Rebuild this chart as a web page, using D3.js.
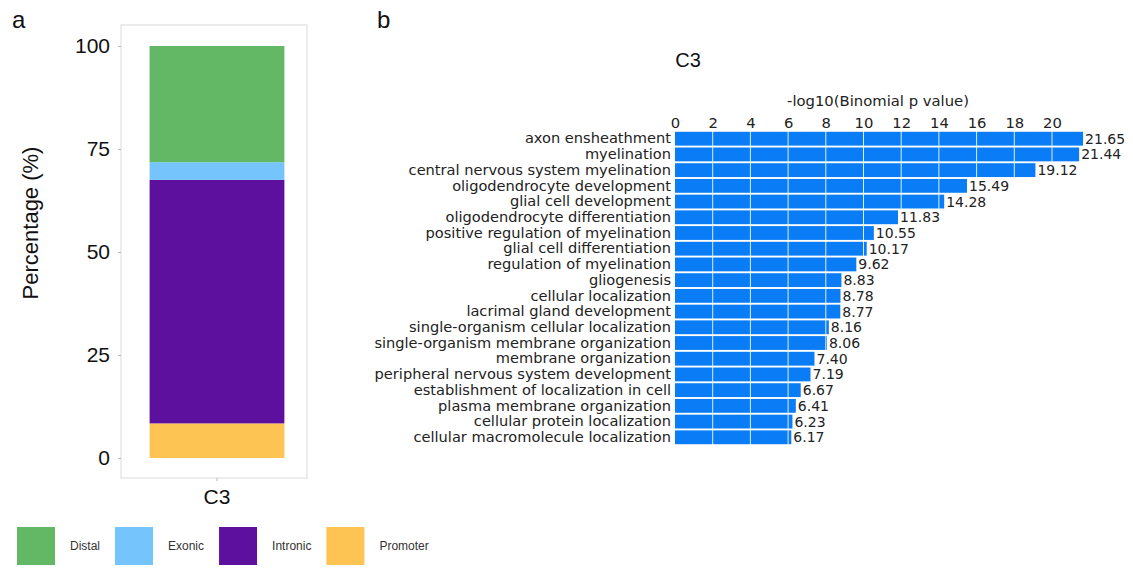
<!DOCTYPE html>
<html>
<head>
<meta charset="utf-8">
<script src="https://cdn.jsdelivr.net/npm/d3@7"></script>
<style>
  body { margin: 0; background: #fff; }
  svg { display: block; }
</style>
</head>
<body>
<svg id="chart" width="1133" height="568"></svg>
<script>
// ---------- Panel a data ----------
const groupLabels = ["C3"];
const annoCategories = ["Promoter", "Intronic", "Exonic", "Distal"]; // bottom to top
const annoValues = [8.4, 59.1, 4.3, 28.2];
const legendOrder = ["Distal", "Exonic", "Intronic", "Promoter"];
const annoColors = ["#fdc453", "#5d0f9e", "#75c4fb", "#63b866"];
const pctTicks = [0, 25, 50, 75, 100];

// ---------- Panel b data ----------
const goTerms = [
  "axon ensheathment",
  "myelination",
  "central nervous system myelination",
  "oligodendrocyte development",
  "glial cell development",
  "oligodendrocyte differentiation",
  "positive regulation of myelination",
  "glial cell differentiation",
  "regulation of myelination",
  "gliogenesis",
  "cellular localization",
  "lacrimal gland development",
  "single-organism cellular localization",
  "single-organism membrane organization",
  "membrane organization",
  "peripheral nervous system development",
  "establishment of localization in cell",
  "plasma membrane organization",
  "cellular protein localization",
  "cellular macromolecule localization"
];
const goValues = [21.65, 21.44, 19.12, 15.49, 14.28, 11.83, 10.55, 10.17, 9.62, 8.83,
                  8.78, 8.77, 8.16, 8.06, 7.40, 7.19, 6.67, 6.41, 6.23, 6.17];
const pTicks = [0, 2, 4, 6, 8, 10, 12, 14, 16, 18, 20];

const svg = d3.select("#chart");

// ================= Panel a =================
const aFont = "'Liberation Sans', Arial, sans-serif";
svg.append("text").attr("x", 12).attr("y", 28).attr("font-family", aFont)
  .attr("font-size", 24).attr("fill", "#111").text("a");

const boxL = 121, boxR = 307, boxT = 25, boxB = 478;
svg.append("rect").attr("x", boxL).attr("y", boxT).attr("width", boxR - boxL).attr("height", boxB - boxT)
  .attr("fill", "none").attr("stroke", "#d9d9d9").attr("stroke-width", 1);

const yA = d3.scaleLinear().domain([0, 100]).range([458, 46]);
const xA = d3.scaleBand().domain(groupLabels).range([boxL + 3, boxR + 3]).paddingInner(0).paddingOuter(0.19);

const stackRow = {};
annoCategories.forEach((c, i) => stackRow[c] = annoValues[i]);
const stacked = d3.stack().keys(annoCategories)([Object.assign({group: "C3"}, stackRow)]);
const colorA = d3.scaleOrdinal().domain(annoCategories).range(annoColors);

svg.append("g").selectAll("rect").data(stacked).join("rect")
  .attr("x", xA("C3"))
  .attr("width", xA.bandwidth())
  .attr("y", d => yA(d[0][1]))
  .attr("height", d => yA(d[0][0]) - yA(d[0][1]))
  .attr("fill", d => colorA(d.key));

const yAxisA = svg.append("g").attr("transform", `translate(${boxL},0)`)
  .call(d3.axisLeft(yA).tickValues(pctTicks).tickSize(3).tickPadding(8));
yAxisA.select(".domain").remove();
yAxisA.selectAll(".tick line").attr("stroke", "#bbb");
yAxisA.selectAll(".tick text").attr("font-family", aFont).attr("font-size", 21).attr("fill", "#111");

const xAxisA = svg.append("g").attr("transform", `translate(0,${boxB})`)
  .call(d3.axisBottom(xA).tickSize(3).tickPadding(8));
xAxisA.select(".domain").remove();
xAxisA.selectAll(".tick line").attr("stroke", "#bbb");
xAxisA.selectAll(".tick text").attr("font-family", aFont).attr("font-size", 21).attr("fill", "#111");

svg.append("text")
  .attr("transform", `translate(38,223) rotate(-90)`)
  .attr("text-anchor", "middle").attr("font-family", aFont).attr("font-size", 22).attr("fill", "#111")
  .text("Percentage (%)");

// legend (flow layout)
const legG = svg.append("g").attr("transform", "translate(17,527)");
let cursor = 0;
legendOrder.forEach(k => {
  const g = legG.append("g").attr("transform", `translate(${cursor},0)`);
  g.append("rect").attr("width", 38).attr("height", 38).attr("fill", colorA(k));
  const t = g.append("text").attr("x", 53).attr("y", 19).attr("dy", "0.35em")
    .attr("font-family", aFont).attr("font-size", 12).attr("fill", "#333").text(k);
  cursor += 53 + t.node().getComputedTextLength() + 15;
});

// ================= Panel b =================
const bFont = "'DejaVu Sans', sans-serif";
svg.append("text").attr("x", 377).attr("y", 28).attr("font-family", aFont)
  .attr("font-size", 24).attr("fill", "#111").text("b");

svg.append("text").attr("x", 688).attr("y", 67).attr("text-anchor", "middle")
  .attr("font-family", aFont).attr("font-size", 20).attr("fill", "#111").text("C3");

const xB = d3.scaleLinear().domain([0, 20]).range([675, 1052]);
const yB = d3.scaleBand().domain(goTerms).range([131, 445]).paddingInner(0.12).paddingOuter(0.05);

svg.append("g").selectAll("rect").data(goTerms).join("rect")
  .attr("x", xB(0))
  .attr("y", d => yB(d))
  .attr("width", (d, i) => xB(goValues[i]) - xB(0))
  .attr("height", yB.bandwidth())
  .attr("fill", "#0a7df6");

svg.append("g").selectAll("line").data(pTicks.slice(1)).join("line")
  .attr("x1", d => xB(d)).attr("x2", d => xB(d))
  .attr("y1", 131).attr("y2", 445)
  .attr("stroke", "#fff").attr("stroke-width", 1).attr("stroke-opacity", 0.85);

const xAxisB = svg.append("g").attr("transform", "translate(0,131)")
  .call(d3.axisTop(xB).tickValues(pTicks).tickSize(0).tickPadding(3));
xAxisB.select(".domain").remove();
xAxisB.selectAll(".tick text").attr("font-family", bFont).attr("font-size", 14.8).attr("fill", "#222");

svg.append("text").attr("x", 878).attr("y", 106).attr("text-anchor", "middle")
  .attr("font-family", bFont).attr("font-size", 14.8).attr("fill", "#222")
  .text("-log10(Binomial p value)");

const yAxisB = svg.append("g").attr("transform", `translate(${xB(0)},0)`)
  .call(d3.axisLeft(yB).tickSize(0).tickPadding(4));
yAxisB.select(".domain").remove();
yAxisB.selectAll(".tick text").attr("font-family", bFont).attr("font-size", 14.6).attr("fill", "#222");

svg.append("g").selectAll("text").data(goTerms).join("text")
  .attr("x", (d, i) => xB(goValues[i]) + 2)
  .attr("y", d => yB(d) + yB.bandwidth() / 2)
  .attr("dy", "0.36em")
  .attr("font-family", bFont).attr("font-size", 14).attr("fill", "#222")
  .text((d, i) => goValues[i].toFixed(2));
</script>
</body>
</html>
